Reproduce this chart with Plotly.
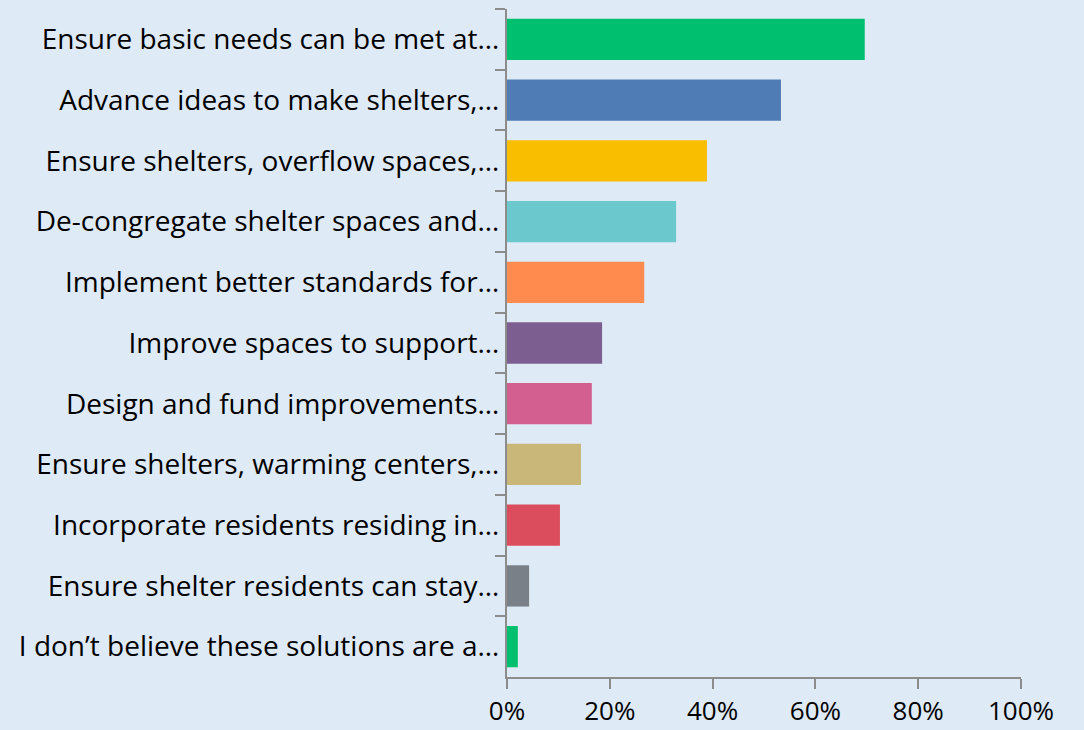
import plotly.graph_objects as go

categories = [
    "Ensure basic needs can be met at…",
    "Advance ideas to make shelters,…",
    "Ensure shelters, overflow spaces,…",
    "De-congregate shelter spaces and…",
    "Implement better standards for…",
    "Improve spaces to support…",
    "Design and fund improvements…",
    "Ensure shelters, warming centers,…",
    "Incorporate residents residing in…",
    "Ensure shelter residents can stay…",
    "I don’t believe these solutions are a…",
]
values = [0.696, 0.533, 0.389, 0.329, 0.267, 0.185, 0.165, 0.144, 0.103, 0.043, 0.021]
colors = ["#00BF6F", "#507CB6", "#F9BE00", "#6BC8CD", "#FF8B4F", "#7D5E90",
          "#D25F90", "#C9B77A", "#DB4D5C", "#7A8088", "#00BF6F"]
x_ticks = [0, 0.2, 0.4, 0.6, 0.8, 1.0]
x_labels = ["0%", "20%", "40%", "60%", "80%", "100%"]

bg = "#DEEAF6"
fig = go.Figure(go.Bar(
    x=values, y=categories, orientation="h",
    marker=dict(color=colors, line=dict(width=0)),
    hoverinfo="x+y",
))
fig.update_layout(
    width=1084, height=730,
    paper_bgcolor=bg, plot_bgcolor=bg,
    margin=dict(l=507, r=63, t=9, b=53, autoexpand=False),
    bargap=0.32,
    showlegend=False,
    font=dict(family="Open Sans, sans-serif", color="#000000"),
)
fig.update_xaxes(
    range=[0, 1.0], tickvals=x_ticks, ticktext=x_labels,
    showgrid=False, zeroline=False,
    showline=True, linecolor="#8C8C8C", linewidth=2,
    ticks="outside", ticklen=10, tickcolor="#8C8C8C", tickwidth=2,
    tickfont=dict(size=26), fixedrange=True,
)
fig.update_yaxes(
    autorange="reversed", showgrid=False, zeroline=False,
    showline=True, linecolor="#8C8C8C", linewidth=2,
    ticks="outside", ticklen=10, tickcolor="#8C8C8C", tickwidth=2,
    tickson="boundaries", tickfont=dict(size=28), fixedrange=True,
)
fig.write_html("out.html", config={"displayModeBar": False},
               post_script="document.body.style.margin='0';document.body.style.overflow='hidden';")
